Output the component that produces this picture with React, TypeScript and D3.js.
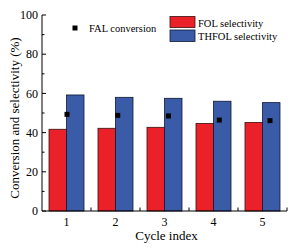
import * as d3 from "d3";
import { useEffect, useRef } from "react";

const cycles = ["1", "2", "3", "4", "5"];
const folSelectivity = [41.7, 42.2, 42.7, 44.7, 45.2];
const thfolSelectivity = [59.2, 58.0, 57.5, 56.0, 55.3];
const falConversion = [49.3, 48.8, 48.5, 46.4, 46.1];
const yTicks = [0, 20, 40, 60, 80, 100];
const yMinor = [10, 30, 50, 70, 90];

const W = 307;
const H = 248;
const RED = "#ea2128";
const BLUE = "#3a5ba8";
const FONT = "'Liberation Serif', 'Times New Roman', serif";

export default function App() {
  const ref = useRef<SVGSVGElement | null>(null);

  useEffect(() => {
    document.body.style.margin = "0";
    if (!ref.current) return;
    const margin = { top: 15, right: 20, bottom: 37, left: 42 };
    const innerW = W - margin.left - margin.right;
    const innerH = H - margin.top - margin.bottom;

    const svg = d3.select(ref.current);
    svg.selectAll("*").remove();
    const g = svg.append("g").attr("transform", `translate(${margin.left},${margin.top})`);

    const x = d3.scaleBand().domain(cycles).range([0, innerW]);
    const y = d3.scaleLinear().domain([0, 100]).range([innerH, 0]);
    const barW = 17.5;
    // conversion markers sit on a slightly wider linear scale
    const cx0 = (x("1") ?? 0) + x.bandwidth() / 2;
    const cx4 = (x("5") ?? 0) + x.bandwidth() / 2;
    const xm = d3.scaleLinear().domain([1, 5]).range([cx0 + 0.5, cx4 + 7.5]);

    const rows = cycles.map((c, i) => ({
      c,
      fol: folSelectivity[i],
      thfol: thfolSelectivity[i],
      fal: falConversion[i],
    }));

    const center = (c: string) => (x(c) ?? 0) + x.bandwidth() / 2;

    g.selectAll("rect.fol")
      .data(rows)
      .join("rect")
      .attr("class", "fol")
      .attr("x", (d) => center(d.c) - barW)
      .attr("y", (d) => y(d.fol))
      .attr("width", barW)
      .attr("height", (d) => innerH - y(d.fol))
      .attr("fill", RED)
      .attr("stroke", "#3a1010")
      .attr("stroke-width", 0.8);

    g.selectAll("rect.thfol")
      .data(rows)
      .join("rect")
      .attr("class", "thfol")
      .attr("x", (d) => center(d.c))
      .attr("y", (d) => y(d.thfol))
      .attr("width", barW)
      .attr("height", (d) => innerH - y(d.thfol))
      .attr("fill", BLUE)
      .attr("stroke", "#101830")
      .attr("stroke-width", 0.8);

    g.selectAll("rect.fal")
      .data(rows)
      .join("rect")
      .attr("class", "fal")
      .attr("x", (_d, i) => xm(i + 1) - 2.5)
      .attr("y", (d) => y(d.fal) - 2.5)
      .attr("width", 5)
      .attr("height", 5)
      .attr("fill", "#000");

    // y axis with inward ticks
    const yAxis = g.append("g");
    yAxis.append("line").attr("x1", 0).attr("x2", 0).attr("y1", 0).attr("y2", innerH).attr("stroke", "#000");
    yAxis
      .selectAll("line.maj")
      .data(yTicks)
      .join("line")
      .attr("class", "maj")
      .attr("x1", 0)
      .attr("x2", 4)
      .attr("y1", (d) => y(d))
      .attr("y2", (d) => y(d))
      .attr("stroke", "#000");
    yAxis
      .selectAll("line.min")
      .data(yMinor)
      .join("line")
      .attr("class", "min")
      .attr("x1", 0)
      .attr("x2", 2.5)
      .attr("y1", (d) => y(d))
      .attr("y2", (d) => y(d))
      .attr("stroke", "#000");
    yAxis
      .selectAll("text")
      .data(yTicks)
      .join("text")
      .attr("x", -4)
      .attr("y", (d) => y(d))
      .attr("dy", "0.35em")
      .attr("text-anchor", "end")
      .style("font-family", FONT)
      .style("font-size", "12px")
      .text((d) => d);

    // x axis
    const xAxis = g.append("g").attr("transform", `translate(0,${innerH})`);
    xAxis.append("line").attr("x1", 0).attr("x2", innerW).attr("stroke", "#000");
    xAxis
      .selectAll("line.tk")
      .data(cycles.slice(1).concat(["end"]))
      .join("line")
      .attr("class", "tk")
      .attr("x1", (_d, i) => (i < cycles.length - 1 ? x(cycles[i + 1]) ?? 0 : innerW))
      .attr("x2", (_d, i) => (i < cycles.length - 1 ? x(cycles[i + 1]) ?? 0 : innerW))
      .attr("y1", 0)
      .attr("y2", -3.5)
      .attr("stroke", "#000");
    xAxis
      .selectAll("text")
      .data(cycles)
      .join("text")
      .attr("x", (d) => center(d))
      .attr("y", 15)
      .attr("text-anchor", "middle")
      .style("font-family", FONT)
      .style("font-size", "12px")
      .text((d) => d);

    svg
      .append("text")
      .attr("x", margin.left + innerW / 2 + 2)
      .attr("y", 240)
      .attr("text-anchor", "middle")
      .style("font-family", FONT)
      .style("font-size", "13px")
      .text("Cycle index");

    svg
      .append("text")
      .attr("transform", `translate(19,118) rotate(-90)`)
      .attr("text-anchor", "middle")
      .style("font-family", FONT)
      .style("font-size", "13px")
      .text("Conversion and selectivity (%)");

    // legend
    const lg = svg.append("g").style("font-family", FONT).style("font-size", "10.5px");
    lg.append("rect").attr("x", 72.5).attr("y", 25.5).attr("width", 5).attr("height", 5).attr("fill", "#000");
    lg.append("text").attr("x", 89).attr("y", 32).text("FAL conversion");
    lg.append("rect").attr("x", 170).attr("y", 16.5).attr("width", 25).attr("height", 11)
      .attr("fill", RED).attr("stroke", "#3a1010").attr("stroke-width", 0.8);
    lg.append("rect").attr("x", 170).attr("y", 30).attr("width", 25).attr("height", 11.5)
      .attr("fill", BLUE).attr("stroke", "#101830").attr("stroke-width", 0.8);
    lg.append("text").attr("x", 198).attr("y", 27).text("FOL selectivity");
    lg.append("text").attr("x", 198).attr("y", 39.5).text("THFOL selectivity");
  }, []);

  return <svg ref={ref} width={W} height={H} style={{ display: "block", background: "#fff" }} />;
}
